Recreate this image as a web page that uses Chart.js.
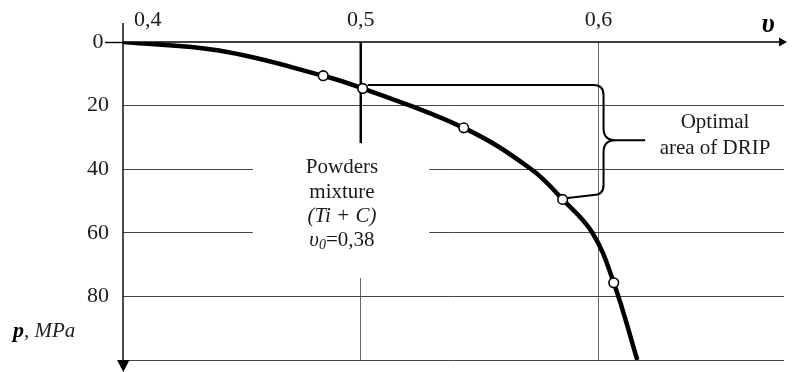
<!DOCTYPE html>
<html>
<head>
<meta charset="utf-8">
<script src="https://cdn.jsdelivr.net/npm/chart.js@4.4.1/dist/chart.umd.min.js"></script>
<style>
  html, body { margin: 0; padding: 0; background: #fff; }
  #wrap { width: 793px; height: 372px; }
</style>
</head>
<body>
<div id="wrap"><canvas id="c" width="793" height="372"></canvas></div>
<script>
// ---- data ----
const xMin = 0.4, xMax = 0.678;
const yMin = 0, yMax = 100;
const xTicks = [0.4, 0.5, 0.6];
const xTickLabels = ['0,4', '0,5', '0,6'];
const yTicks = [0, 20, 40, 60, 80];
const yTickLabels = ['0', '20', '40', '60', '80'];
const curveX = [0.400, 0.4404, 0.4842, 0.5008, 0.5433, 0.5717, 0.5849, 0.5974, 0.6064, 0.6163];
const curveY = [0, 2.7, 10.6, 14.6, 27.0, 40.0, 49.5, 60.0, 75.7, 100];
const markerX = [0.4842, 0.5008, 0.5433, 0.5849, 0.6064];
const markerY = [10.6, 14.6, 27.0, 49.5, 75.7];
const mixtureV = 0.5;       // vertical marker line of powder mixture
const noteLines = ['Powders', 'mixture', '(Ti + C)'];
const noteV0 = '0,38';
const optimalLines = ['Optimal', 'area of DRIP'];
const xAxisTitle = 'υ';
const yAxisTitle = ['p', ', MPa'];

const SERIF = '"Liberation Serif", "Times New Roman", serif';

const overlay = {
  id: 'overlay',
  beforeDatasetsDraw(chart) {
    const ctx = chart.ctx, xs = chart.scales.x, ys = chart.scales.y;
    const px = v => xs.getPixelForValue(v), py = v => ys.getPixelForValue(v);
    ctx.save();
    // white area behind the note text (interrupts grid lines)
    ctx.fillStyle = '#fff';
    ctx.fillRect(px(0.4546), py(31.8), px(0.5288) - px(0.4546), py(74.2) - py(31.8));
    // thick line at mixture value
    ctx.strokeStyle = '#000';
    ctx.lineWidth = 2.5;
    ctx.beginPath();
    ctx.moveTo(px(mixtureV), py(0));
    ctx.lineTo(px(mixtureV), py(31.8));
    ctx.stroke();
    ctx.restore();
  },
  afterDatasetsDraw(chart) {
    const ctx = chart.ctx, xs = chart.scales.x, ys = chart.scales.y, ca = chart.chartArea;
    const px = v => xs.getPixelForValue(v), py = v => ys.getPixelForValue(v);
    ctx.save();
    // axes
    ctx.strokeStyle = '#000';
    ctx.fillStyle = '#000';
    ctx.lineWidth = 1.4;
    ctx.beginPath();
    ctx.moveTo(ca.left, ca.top - 19);
    ctx.lineTo(ca.left, ca.bottom);
    ctx.moveTo(ca.left, ca.top);
    ctx.lineTo(ca.right - 3, ca.top);
    ctx.stroke();
    // arrowheads
    ctx.beginPath();
    ctx.moveTo(ca.left - 6, ca.bottom);
    ctx.lineTo(ca.left + 6.5, ca.bottom);
    ctx.lineTo(ca.left + 0.3, ca.bottom + 12);
    ctx.closePath();
    ctx.fill();
    ctx.beginPath();
    ctx.moveTo(ca.right - 5, ca.top - 4.5);
    ctx.lineTo(ca.right + 3, ca.top);
    ctx.lineTo(ca.right - 5, ca.top + 4.5);
    ctx.closePath();
    ctx.fill();

    // bracket (brace) for optimal area
    const xR = px(0.6021), yT = py(13.5), yB = py(48.1), yM = py(30.9), xTip = px(0.6196);
    ctx.lineWidth = 2;
    ctx.beginPath();
    ctx.moveTo(px(markerX[1]) + 5, yT);
    ctx.lineTo(xR - 10, yT);
    ctx.quadraticCurveTo(xR, yT, xR, yT + 10);
    ctx.lineTo(xR, yM - 12);
    ctx.quadraticCurveTo(xR, yM, xR + 12, yM);
    ctx.lineTo(xTip, yM);
    ctx.moveTo(xR + 12, yM);
    ctx.quadraticCurveTo(xR, yM, xR, yM + 12);
    ctx.lineTo(xR, yB - 10);
    ctx.quadraticCurveTo(xR, yB, xR - 10, yB);
    ctx.lineTo(px(markerX[3]) + 5, py(markerY[3]) - 1.5);
    ctx.stroke();

    // texts
    ctx.fillStyle = '#1a1a1a';
    ctx.textBaseline = 'alphabetic';
    ctx.textAlign = 'center';
    const tx = px(0.4921);
    const base = [41.2, 48.9, 56.6, 64.3];
    ctx.font = '21px ' + SERIF;
    ctx.fillText(noteLines[0], tx, py(base[0]));
    ctx.fillText(noteLines[1], tx, py(base[1]));
    ctx.font = 'italic 21px ' + SERIF;
    ctx.fillText(noteLines[2], tx, py(base[2]));
    // υ0=0,38
    ctx.textAlign = 'left';
    ctx.font = 'italic 21px ' + SERIF;
    const wU = ctx.measureText('υ').width;
    ctx.font = 'italic 14px ' + SERIF;
    const w0 = ctx.measureText('0').width;
    ctx.font = '21px ' + SERIF;
    const wR = ctx.measureText('=' + noteV0).width;
    let sx = tx - (wU + w0 + wR) / 2;
    const by = py(base[3]);
    ctx.font = 'italic 21px ' + SERIF;
    ctx.fillText('υ', sx, by); sx += wU;
    ctx.font = 'italic 14px ' + SERIF;
    ctx.fillText('0', sx, by + 3); sx += w0;
    ctx.font = '21px ' + SERIF;
    ctx.fillText('=' + noteV0, sx, by);

    // optimal area text
    ctx.textAlign = 'center';
    ctx.font = '21px ' + SERIF;
    ctx.fillText(optimalLines[0], px(0.6490), py(27.0));
    ctx.fillText(optimalLines[1], px(0.6490), py(35.2));

    // axis titles
    ctx.font = 'bold italic 27px ' + SERIF;
    ctx.textAlign = 'center';
    ctx.fillStyle = '#000';
    ctx.fillText(xAxisTitle, ca.right - 16, ca.top - 10);
    ctx.textAlign = 'left';
    ctx.font = 'bold italic 22px ' + SERIF;
    const yb = py(92.8);
    ctx.fillText(yAxisTitle[0], ca.left - 110, yb);
    const wp = ctx.measureText(yAxisTitle[0]).width;
    ctx.font = 'italic 21px ' + SERIF;
    ctx.fillStyle = '#222';
    ctx.fillText(yAxisTitle[1], ca.left - 110 + wp, yb);
    ctx.restore();
  }
};

new Chart(document.getElementById('c'), {
  type: 'scatter',
  data: {
    datasets: [
      {
        data: markerX.map((x, i) => ({ x, y: markerY[i] })),
        showLine: false,
        pointRadius: 4.8,
        pointBackgroundColor: '#fff',
        pointBorderColor: '#000',
        pointBorderWidth: 1.6,
        order: 0
      },
      {
        data: curveX.map((x, i) => ({ x, y: curveY[i] })),
        showLine: true,
        borderColor: '#000',
        borderWidth: 4.5,
        pointRadius: 0,
        tension: 0.4,
        order: 1
      }
    ]
  },
  options: {
    responsive: false,
    animation: false,
    events: [],
    layout: { padding: { left: 0, top: 0, right: 3, bottom: 12 } },
    plugins: { legend: { display: false }, tooltip: { enabled: false } },
    scales: {
      x: {
        type: 'linear',
        position: 'top',
        min: xMin,
        max: xMax,
        afterBuildTicks: s => { s.ticks = xTicks.concat([xMax]).map(v => ({ value: v })); },
        afterFit: s => { s.height = 42; },
        border: { display: false },
        grid: {
          drawTicks: false,
          color: c => (c.tick && (c.tick.value === 0.5 || c.tick.value === 0.6)) ? '#666' : 'rgba(0,0,0,0)',
          lineWidth: 1
        },
        ticks: {
          align: 'inner',
          padding: 9,
          maxRotation: 0,
          autoSkip: false,
          color: '#1a1a1a',
          font: { family: SERIF, size: 22 },
          callback: (v, i) => i < xTickLabels.length ? (i === 0 ? '  ' + xTickLabels[i] : xTickLabels[i]) : ''
        }
      },
      y: {
        type: 'linear',
        position: 'left',
        reverse: true,
        min: yMin,
        max: yMax,
        afterBuildTicks: s => { s.ticks = yTicks.concat([yMax]).map(v => ({ value: v })); },
        afterFit: s => { s.width = 123; },
        border: { display: false },
        grid: {
          drawTicks: true,
          tickLength: 18,
          color: c => (c.tick && c.tick.value !== 0) ? '#444' : 'rgba(0,0,0,0)',
          tickColor: c => (c.tick && c.tick.value === 0) ? '#000' : 'rgba(0,0,0,0)',
          lineWidth: 1,
          tickWidth: 1.4
        },
        ticks: {
          crossAlign: 'center',
          padding: -4,
          autoSkip: false,
          color: '#1a1a1a',
          font: { family: SERIF, size: 22 },
          callback: (v, i) => i < yTickLabels.length ? yTickLabels[i] : ''
        }
      }
    }
  },
  plugins: [overlay]
});
</script>
</body>
</html>
